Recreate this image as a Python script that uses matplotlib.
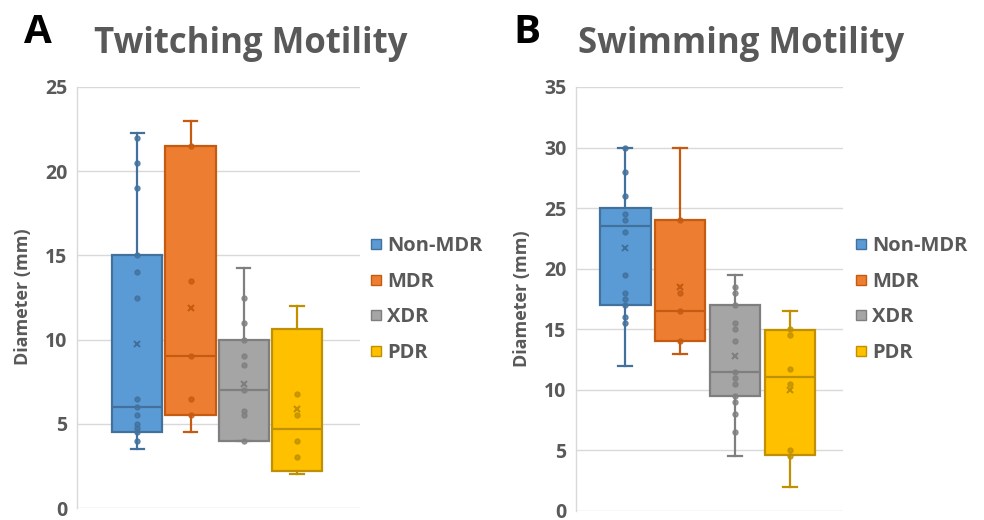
import matplotlib
matplotlib.use('Agg')
import matplotlib.pyplot as plt
from matplotlib.lines import Line2D

groups = ['Non-MDR', 'MDR', 'XDR', 'PDR']
fills = ['#5B9BD5', '#ED7D31', '#A5A5A5', '#FFC000']
edges = ['#41719C', '#C55A11', '#7F7F7F', '#BF9000']

# Twitching motility (A)
tw_whislo = [3.5, 4.5, 4.0, 2.0]
tw_q1 = [4.5, 5.5, 4.0, 2.2]
tw_med = [6.0, 9.0, 7.0, 4.7]
tw_q3 = [15.0, 21.5, 10.0, 10.65]
tw_whishi = [22.25, 23.0, 14.25, 12.0]
tw_mean = [9.75, 11.9, 7.35, 5.9]
tw_points = [
    [22.0, 20.5, 19.0, 15.0, 14.0, 12.5, 6.5, 6.0, 5.5, 5.0, 4.75, 4.5, 4.0],
    [21.5, 13.5, 9.0, 6.5, 5.5],
    [12.5, 11.0, 10.0, 9.0, 8.5, 7.0, 5.75, 5.5, 4.0],
    [6.75, 5.5, 4.0, 3.0],
]

# Swimming motility (B)
sw_whislo = [12.0, 13.0, 4.5, 2.0]
sw_q1 = [17.0, 14.0, 9.5, 4.6]
sw_med = [23.5, 16.5, 11.5, 11.1]
sw_q3 = [25.0, 24.0, 17.0, 14.9]
sw_whishi = [30.0, 30.0, 19.5, 16.5]
sw_mean = [21.75, 18.5, 12.8, 10.0]
sw_points = [
    [30.0, 28.0, 26.0, 24.5, 24.0, 23.0, 19.5, 18.0, 17.5, 17.0, 16.0, 15.5],
    [24.0, 18.0, 16.5, 14.0],
    [18.5, 18.0, 17.0, 15.5, 15.0, 14.0, 11.5, 11.0, 10.5, 9.5, 9.0, 8.0, 6.5],
    [15.0, 14.5, 11.75, 10.5, 5.0, 4.5],
]

FONT = 'Open Sans'
TXT = '#595959'
GRID = '#D9D9D9'

W, H = 984, 520
fig = plt.figure(figsize=(W / 100, H / 100), dpi=100)


def fx(px):
    return px / W


def fy(py):
    return 1 - py / H


def panel(rect, whislo, q1, med, q3, whishi, mean, points, ymax, xlim, width):
    ax = fig.add_axes(rect)
    for i in range(len(groups)):
        st = [dict(whislo=whislo[i], q1=q1[i], med=med[i], q3=q3[i],
                   whishi=whishi[i], mean=mean[i], fliers=[])]
        ax.bxp(st, positions=[i], widths=width, showmeans=True,
               patch_artist=True, showfliers=False, capwidths=0.25,
               boxprops=dict(facecolor=fills[i], edgecolor=edges[i], linewidth=1.6),
               medianprops=dict(color=edges[i], linewidth=1.6),
               whiskerprops=dict(color=edges[i], linewidth=1.6),
               capprops=dict(color=edges[i], linewidth=1.6),
               meanprops=dict(marker='x', markeredgecolor=edges[i],
                              markersize=5, markeredgewidth=1.5),
               zorder=2)
        ax.plot([i] * len(points[i]), points[i], linestyle='none', marker='o',
                markersize=3.6, markerfacecolor=edges[i], markeredgecolor=edges[i],
                alpha=0.8, zorder=3)
    ax.set_xlim(*xlim)
    ax.set_ylim(0, ymax)
    ax.set_yticks(range(0, ymax + 1, 5))
    ax.set_xticks([])
    ax.grid(axis='y', color=GRID, linewidth=1.0, zorder=0)
    ax.set_axisbelow(True)
    for s in ['top', 'right', 'bottom']:
        ax.spines[s].set_visible(False)
    ax.spines['left'].set_color(GRID)
    ax.spines['left'].set_linewidth(1.0)
    ax.tick_params(axis='y', length=0, pad=7, labelsize=14, labelcolor=TXT)
    for lab in ax.get_yticklabels():
        lab.set_fontfamily(FONT)
        lab.set_fontweight('bold')
    return ax


axA = panel([fx(77), fy(508), fx(283), 421 / H], tw_whislo, tw_q1, tw_med, tw_q3,
            tw_whishi, tw_mean, tw_points, 25, (-1.13, 4.18), 0.94)
axB = panel([fx(576), fy(511), fx(267), 424 / H], sw_whislo, sw_q1, sw_med, sw_q3,
            sw_whishi, sw_mean, sw_points, 35, (-0.90, 3.97), 0.92)

# titles and panel letters
fig.text(fx(251), fy(53), 'Twitching Motility', ha='center', va='baseline',
         fontsize=25, fontweight='bold', color=TXT, fontfamily=FONT)
fig.text(fx(741), fy(53), 'Swimming Motility', ha='center', va='baseline',
         fontsize=25, fontweight='bold', color=TXT, fontfamily=FONT)
fig.text(fx(24), fy(43), 'A', ha='left', va='baseline', fontsize=29,
         fontweight='bold', color='black', fontfamily=FONT)
fig.text(fx(513), fy(43), 'B', ha='left', va='baseline', fontsize=29,
         fontweight='bold', color='black', fontfamily=FONT)

# y labels
fig.text(fx(23), fy(297), 'Diameter (mm)', rotation=90, ha='center', va='center',
         fontsize=13, fontweight='bold', color=TXT, fontfamily=FONT)
fig.text(fx(522), fy(299), 'Diameter (mm)', rotation=90, ha='center', va='center',
         fontsize=13, fontweight='bold', color=TXT, fontfamily=FONT)

# legends
handles = [Line2D([], [], linestyle='none', marker='s', markersize=7,
                  markerfacecolor=fills[i], markeredgecolor=edges[i],
                  markeredgewidth=1.0, label=groups[i]) for i in range(len(groups))]
for x0 in (370, 855):
    leg = fig.legend(handles=handles, loc='upper left',
                     bbox_to_anchor=(fx(x0), fy(236)), frameon=False,
                     handlelength=0.6, handletextpad=0.25, labelspacing=0.78,
                     borderaxespad=0, borderpad=0,
                     prop=dict(family=FONT, weight='bold', size=14.5))
    for t in leg.get_texts():
        t.set_color(TXT)

fig.savefig('out.png', dpi=100)
